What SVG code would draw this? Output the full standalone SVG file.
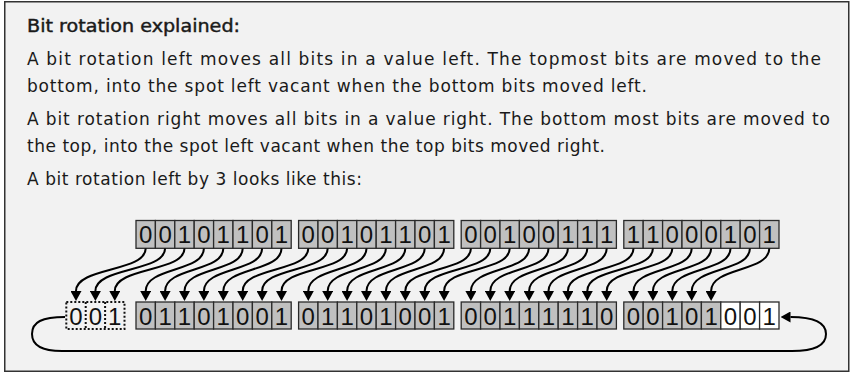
<svg xmlns="http://www.w3.org/2000/svg" width="853" height="375" viewBox="0 0 853 375">
<defs>
<style>
.txt{font-family:"DejaVu Sans",sans-serif;font-size:17px;fill:#1a1a1a}
.ttl{font-size:18px;stroke:#1a1a1a;stroke-width:0.45}
.cell{fill:#c0c0c0;stroke:#2a2a2a;stroke-width:1.3}
.wh{fill:#ffffff}
.dot{fill:none;stroke:#111;stroke-width:2;stroke-dasharray:2 2}
.d{font-family:"Liberation Sans",Arial,sans-serif;font-size:24px;text-anchor:middle;fill:#111}
.arr{fill:none;stroke:#000;stroke-width:2;marker-end:url(#ah)}
</style>
<marker id="ah" markerUnits="userSpaceOnUse" viewBox="0 0 10 11" refX="0" refY="5.5" markerWidth="10" markerHeight="11" orient="auto">
<path d="M0,0 L10,5.5 L0,11 z" fill="#000"/>
</marker>
</defs>
<rect width="853" height="375" fill="#ffffff"/>
<rect id="frame" x="4.75" y="1.75" width="844" height="369.5" fill="#f2f2f2" stroke="#333" stroke-width="1.5"/>
<g id="text">
<text class="txt ttl" x="27" y="31.5" textLength="213" lengthAdjust="spacingAndGlyphs">Bit rotation explained:</text>
<text class="txt" x="27" y="65" textLength="794" lengthAdjust="spacing">A bit rotation left moves all bits in a value left. The topmost bits are moved to the</text>
<text class="txt" x="27" y="91.7" textLength="620" lengthAdjust="spacing">bottom, into the spot left vacant when the bottom bits moved left.</text>
<text class="txt" x="27" y="125" textLength="803" lengthAdjust="spacing">A bit rotation right moves all bits in a value right. The bottom most bits are moved to</text>
<text class="txt" x="27" y="151.7" textLength="578" lengthAdjust="spacing">the top, into the spot left vacant when the top bits moved right.</text>
<text class="txt" x="27" y="185" textLength="335" lengthAdjust="spacing">A bit rotation left by 3 looks like this:</text>
</g>
<g id="top-byte-1" transform="translate(136,220.5)">
<rect class="cell" x="0" y="0" width="19.4" height="27.8"/><rect class="cell" x="19.4" y="0" width="19.4" height="27.8"/><rect class="cell" x="38.8" y="0" width="19.4" height="27.8"/><rect class="cell" x="58.2" y="0" width="19.4" height="27.8"/><rect class="cell" x="77.6" y="0" width="19.4" height="27.8"/><rect class="cell" x="97" y="0" width="19.4" height="27.8"/><rect class="cell" x="116.4" y="0" width="19.4" height="27.8"/><rect class="cell" x="135.8" y="0" width="19.4" height="27.8"/>
<text class="d" y="22.6"><tspan x="9.7">0</tspan><tspan x="29.1">0</tspan><tspan x="48.5">1</tspan><tspan x="67.9">0</tspan><tspan x="87.3">1</tspan><tspan x="106.7">1</tspan><tspan x="126.1">0</tspan><tspan x="145.5">1</tspan></text>
</g>
<g id="top-byte-2" transform="translate(298.6,220.5)">
<rect class="cell" x="0" y="0" width="19.4" height="27.8"/><rect class="cell" x="19.4" y="0" width="19.4" height="27.8"/><rect class="cell" x="38.8" y="0" width="19.4" height="27.8"/><rect class="cell" x="58.2" y="0" width="19.4" height="27.8"/><rect class="cell" x="77.6" y="0" width="19.4" height="27.8"/><rect class="cell" x="97" y="0" width="19.4" height="27.8"/><rect class="cell" x="116.4" y="0" width="19.4" height="27.8"/><rect class="cell" x="135.8" y="0" width="19.4" height="27.8"/>
<text class="d" y="22.6"><tspan x="9.7">0</tspan><tspan x="29.1">0</tspan><tspan x="48.5">1</tspan><tspan x="67.9">0</tspan><tspan x="87.3">1</tspan><tspan x="106.7">1</tspan><tspan x="126.1">0</tspan><tspan x="145.5">1</tspan></text>
</g>
<g id="top-byte-3" transform="translate(461.2,220.5)">
<rect class="cell" x="0" y="0" width="19.4" height="27.8"/><rect class="cell" x="19.4" y="0" width="19.4" height="27.8"/><rect class="cell" x="38.8" y="0" width="19.4" height="27.8"/><rect class="cell" x="58.2" y="0" width="19.4" height="27.8"/><rect class="cell" x="77.6" y="0" width="19.4" height="27.8"/><rect class="cell" x="97" y="0" width="19.4" height="27.8"/><rect class="cell" x="116.4" y="0" width="19.4" height="27.8"/><rect class="cell" x="135.8" y="0" width="19.4" height="27.8"/>
<text class="d" y="22.6"><tspan x="9.7">0</tspan><tspan x="29.1">0</tspan><tspan x="48.5">1</tspan><tspan x="67.9">0</tspan><tspan x="87.3">0</tspan><tspan x="106.7">1</tspan><tspan x="126.1">1</tspan><tspan x="145.5">1</tspan></text>
</g>
<g id="top-byte-4" transform="translate(623.8,220.5)">
<rect class="cell" x="0" y="0" width="19.4" height="27.8"/><rect class="cell" x="19.4" y="0" width="19.4" height="27.8"/><rect class="cell" x="38.8" y="0" width="19.4" height="27.8"/><rect class="cell" x="58.2" y="0" width="19.4" height="27.8"/><rect class="cell" x="77.6" y="0" width="19.4" height="27.8"/><rect class="cell" x="97" y="0" width="19.4" height="27.8"/><rect class="cell" x="116.4" y="0" width="19.4" height="27.8"/><rect class="cell" x="135.8" y="0" width="19.4" height="27.8"/>
<text class="d" y="22.6"><tspan x="9.7">1</tspan><tspan x="29.1">1</tspan><tspan x="48.5">0</tspan><tspan x="67.9">0</tspan><tspan x="87.3">0</tspan><tspan x="106.7">1</tspan><tspan x="126.1">0</tspan><tspan x="145.5">1</tspan></text>
</g>
<g id="rotated-out" transform="translate(66.3,302)">
<rect class="dot" x="0" y="0" width="58.2" height="27"/>
<line class="dot" x1="19.4" y1="0" x2="19.4" y2="27"/><line class="dot" x1="38.8" y1="0" x2="38.8" y2="27"/>
<text class="d" y="22.5"><tspan x="9.7">0</tspan><tspan x="29.1">0</tspan><tspan x="48.5">1</tspan></text>
</g>
<g id="bottom-byte-1" transform="translate(136,302)">
<rect class="cell" x="0" y="0" width="19.4" height="27"/><rect class="cell" x="19.4" y="0" width="19.4" height="27"/><rect class="cell" x="38.8" y="0" width="19.4" height="27"/><rect class="cell" x="58.2" y="0" width="19.4" height="27"/><rect class="cell" x="77.6" y="0" width="19.4" height="27"/><rect class="cell" x="97" y="0" width="19.4" height="27"/><rect class="cell" x="116.4" y="0" width="19.4" height="27"/><rect class="cell" x="135.8" y="0" width="19.4" height="27"/>
<text class="d" y="22.5"><tspan x="9.7">0</tspan><tspan x="29.1">1</tspan><tspan x="48.5">1</tspan><tspan x="67.9">0</tspan><tspan x="87.3">1</tspan><tspan x="106.7">0</tspan><tspan x="126.1">0</tspan><tspan x="145.5">1</tspan></text>
</g>
<g id="bottom-byte-2" transform="translate(298.6,302)">
<rect class="cell" x="0" y="0" width="19.4" height="27"/><rect class="cell" x="19.4" y="0" width="19.4" height="27"/><rect class="cell" x="38.8" y="0" width="19.4" height="27"/><rect class="cell" x="58.2" y="0" width="19.4" height="27"/><rect class="cell" x="77.6" y="0" width="19.4" height="27"/><rect class="cell" x="97" y="0" width="19.4" height="27"/><rect class="cell" x="116.4" y="0" width="19.4" height="27"/><rect class="cell" x="135.8" y="0" width="19.4" height="27"/>
<text class="d" y="22.5"><tspan x="9.7">0</tspan><tspan x="29.1">1</tspan><tspan x="48.5">1</tspan><tspan x="67.9">0</tspan><tspan x="87.3">1</tspan><tspan x="106.7">0</tspan><tspan x="126.1">0</tspan><tspan x="145.5">1</tspan></text>
</g>
<g id="bottom-byte-3" transform="translate(461.2,302)">
<rect class="cell" x="0" y="0" width="19.4" height="27"/><rect class="cell" x="19.4" y="0" width="19.4" height="27"/><rect class="cell" x="38.8" y="0" width="19.4" height="27"/><rect class="cell" x="58.2" y="0" width="19.4" height="27"/><rect class="cell" x="77.6" y="0" width="19.4" height="27"/><rect class="cell" x="97" y="0" width="19.4" height="27"/><rect class="cell" x="116.4" y="0" width="19.4" height="27"/><rect class="cell" x="135.8" y="0" width="19.4" height="27"/>
<text class="d" y="22.5"><tspan x="9.7">0</tspan><tspan x="29.1">0</tspan><tspan x="48.5">1</tspan><tspan x="67.9">1</tspan><tspan x="87.3">1</tspan><tspan x="106.7">1</tspan><tspan x="126.1">1</tspan><tspan x="145.5">0</tspan></text>
</g>
<g id="bottom-byte-4" transform="translate(623.8,302)">
<rect class="cell" x="0" y="0" width="19.4" height="27"/><rect class="cell" x="19.4" y="0" width="19.4" height="27"/><rect class="cell" x="38.8" y="0" width="19.4" height="27"/><rect class="cell" x="58.2" y="0" width="19.4" height="27"/><rect class="cell" x="77.6" y="0" width="19.4" height="27"/><rect class="cell wh" x="97" y="0" width="19.4" height="27"/><rect class="cell wh" x="116.4" y="0" width="19.4" height="27"/><rect class="cell wh" x="135.8" y="0" width="19.4" height="27"/>
<text class="d" y="22.5"><tspan x="9.7">0</tspan><tspan x="29.1">0</tspan><tspan x="48.5">1</tspan><tspan x="67.9">0</tspan><tspan x="87.3">1</tspan><tspan x="106.7">0</tspan><tspan x="126.1">0</tspan><tspan x="145.5">1</tspan></text>
</g>
<g id="connectors">
<path class="arr" d="M145.7 248.5 C145.7 272 76 267 76 291"/>
<path class="arr" d="M165.1 248.5 C165.1 272 95.4 267 95.4 291"/>
<path class="arr" d="M184.5 248.5 C184.5 272 114.8 267 114.8 291"/>
<path class="arr" d="M203.9 248.5 C203.9 272 145.7 267 145.7 291"/>
<path class="arr" d="M223.3 248.5 C223.3 272 165.1 267 165.1 291"/>
<path class="arr" d="M242.7 248.5 C242.7 272 184.5 267 184.5 291"/>
<path class="arr" d="M262.1 248.5 C262.1 272 203.9 267 203.9 291"/>
<path class="arr" d="M281.5 248.5 C281.5 272 223.3 267 223.3 291"/>
<path class="arr" d="M308.3 248.5 C308.3 272 242.7 267 242.7 291"/>
<path class="arr" d="M327.7 248.5 C327.7 272 262.1 267 262.1 291"/>
<path class="arr" d="M347.1 248.5 C347.1 272 281.5 267 281.5 291"/>
<path class="arr" d="M366.5 248.5 C366.5 272 308.3 267 308.3 291"/>
<path class="arr" d="M385.9 248.5 C385.9 272 327.7 267 327.7 291"/>
<path class="arr" d="M405.3 248.5 C405.3 272 347.1 267 347.1 291"/>
<path class="arr" d="M424.7 248.5 C424.7 272 366.5 267 366.5 291"/>
<path class="arr" d="M444.1 248.5 C444.1 272 385.9 267 385.9 291"/>
<path class="arr" d="M470.9 248.5 C470.9 272 405.3 267 405.3 291"/>
<path class="arr" d="M490.3 248.5 C490.3 272 424.7 267 424.7 291"/>
<path class="arr" d="M509.7 248.5 C509.7 272 444.1 267 444.1 291"/>
<path class="arr" d="M529.1 248.5 C529.1 272 470.9 267 470.9 291"/>
<path class="arr" d="M548.5 248.5 C548.5 272 490.3 267 490.3 291"/>
<path class="arr" d="M567.9 248.5 C567.9 272 509.7 267 509.7 291"/>
<path class="arr" d="M587.3 248.5 C587.3 272 529.1 267 529.1 291"/>
<path class="arr" d="M606.7 248.5 C606.7 272 548.5 267 548.5 291"/>
<path class="arr" d="M633.5 248.5 C633.5 272 567.9 267 567.9 291"/>
<path class="arr" d="M652.9 248.5 C652.9 272 587.3 267 587.3 291"/>
<path class="arr" d="M672.3 248.5 C672.3 272 606.7 267 606.7 291"/>
<path class="arr" d="M691.7 248.5 C691.7 272 633.5 267 633.5 291"/>
<path class="arr" d="M711.1 248.5 C711.1 272 652.9 267 652.9 291"/>
<path class="arr" d="M730.5 248.5 C730.5 272 672.3 267 672.3 291"/>
<path class="arr" d="M749.9 248.5 C749.9 272 691.7 267 691.7 291"/>
<path class="arr" d="M769.3 248.5 C769.3 272 711.1 267 711.1 291"/>
<path class="arr" d="M65 317 C42 317 32 322 32 334 C32 346 42 351 62 351 L792 351 C814 351 826 345 826 334 C826 322 812 317 790.5 317"/>
</g>
</svg>
